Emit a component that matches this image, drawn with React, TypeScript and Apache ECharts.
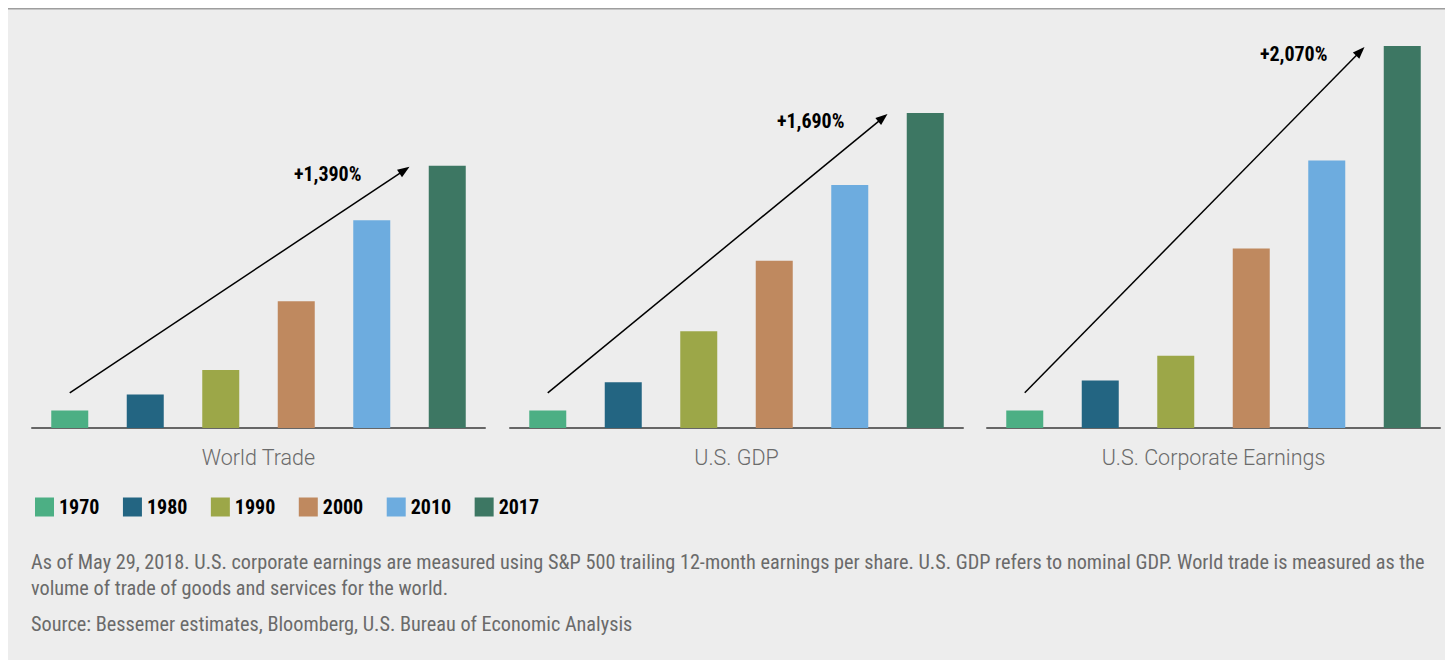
import React, { useEffect, useRef } from "react";
import * as echarts from "echarts";

const years = ["1970", "1980", "1990", "2000", "2010", "2017"];
const yearColors = ["#4caf84", "#236582", "#9ca748", "#bf895f", "#6dacdf", "#3d7763"];
const panelNames = ["World Trade", "U.S. GDP", "U.S. Corporate Earnings"];
// index, 1970 = 100
const worldTrade = [100, 190, 330, 720, 1180, 1490];
const usGdp = [100, 260, 550, 950, 1380, 1790];
const corpEarnings = [100, 270, 410, 1020, 1520, 2170];
const growthLabels = ["+1,390%", "+1,690%", "+2,070%"];
const arrowStartValue = 200;
const footnoteLines = [
  "As of May 29, 2018. U.S. corporate earnings are measured using S&P 500 trailing 12-month earnings per share. U.S. GDP refers to nominal GDP. World trade is measured as the",
  "volume of trade of goods and services for the world.",
];
const sourceLine = "Source: Bessemer estimates, Bloomberg, U.S. Bureau of Economic Analysis";

const COND = "'Liberation Sans Narrow', 'Roboto Condensed', 'DejaVu Sans Condensed', sans-serif";

export default function App() {
  const ref = useRef<HTMLDivElement>(null);
  useEffect(() => {
    if (!ref.current) return;
    const chart = echarts.init(ref.current, undefined, { renderer: "svg" });
    const panelData = [worldTrade, usGdp, corpEarnings];
    const lefts = [24, 502, 979];
    const grids = lefts.map((l) => ({ left: l, width: 453, top: 32.8, height: 387.2 }));
    const xAxes = panelNames.map((n, p) => ({
      type: "category",
      gridIndex: p,
      data: years,
      axisLine: { lineStyle: { color: "#666666", width: 2 } },
      axisTick: { show: false },
      axisLabel: { show: false },
      name: n,
      nameLocation: "middle",
      nameGap: 18,
      nameTextStyle: { fontFamily: "Roboto, sans-serif", fontWeight: 300, fontSize: 21.5, color: "#6b6b6b" },
    }));
    const yAxes = panelNames.map((_, p) => ({
      type: "value",
      gridIndex: p,
      min: 0,
      max: 2200,
      show: false,
      splitLine: { show: false },
    }));
    const series: any[] = [];
    panelData.forEach((vals, p) => {
      years.forEach((y, k) => {
        series.push({
          type: "bar",
          name: y,
          xAxisIndex: p,
          yAxisIndex: p,
          barWidth: 37,
          barGap: "-100%",
          itemStyle: { color: yearColors[k] },
          data: years.map((_, j) => (j === k ? vals[j] : "-")),
        });
      });
    });
    chart.setOption({
      animation: false,
      backgroundColor: "#ededed",
      grid: grids,
      xAxis: xAxes,
      yAxis: yAxes,
      series,
      legend: {
        data: years,
        left: 22,
        top: 484,
        icon: "rect",
        itemWidth: 19,
        itemHeight: 19,
        itemGap: 23.5,
        selectedMode: false,
        textStyle: { fontFamily: COND, fontWeight: "bold", fontSize: 20, color: "#000000" },
      },
    });

    const labelDx = [-48, -43, -37];
    const graphics: any[] = [
      { type: "rect", shape: { x: 0, y: 0, width: 1437, height: 1.5 }, style: { fill: "#9e9e9e" } },
    ];
    panelData.forEach((vals, p) => {
      const finder = { xAxisIndex: p, yAxisIndex: p };
      const start = chart.convertToPixel(finder, [0, arrowStartValue]) as number[];
      const a = chart.convertToPixel(finder, [4, vals[5]]) as number[];
      const b = chart.convertToPixel(finder, [5, vals[5]]) as number[];
      const tip = [(a[0] + b[0]) / 2, a[1] + 1];
      const dx = tip[0] - start[0];
      const dy = tip[1] - start[1];
      const len = Math.sqrt(dx * dx + dy * dy);
      const ux = dx / len;
      const uy = dy / len;
      const hl = 12;
      const hw = 4.5;
      const base = [tip[0] - ux * hl, tip[1] - uy * hl];
      graphics.push({
        type: "line",
        shape: { x1: start[0], y1: start[1], x2: base[0] + ux * 2, y2: base[1] + uy * 2 },
        style: { stroke: "#000", lineWidth: 1.5 },
      });
      graphics.push({
        type: "polygon",
        shape: {
          points: [
            tip,
            [base[0] - uy * hw, base[1] + ux * hw],
            [base[0] + uy * hw, base[1] - ux * hw],
          ],
        },
        style: { fill: "#000" },
      });
      graphics.push({
        type: "text",
        x: tip[0] + labelDx[p],
        y: tip[1] + 7,
        style: {
          text: growthLabels[p],
          fontFamily: COND,
          fontWeight: "bold",
          fontSize: 20,
          fill: "#000",
          align: "right",
          verticalAlign: "middle",
        },
      });
    });
    footnoteLines.forEach((t, i) => {
      graphics.push({
        type: "text",
        x: 23,
        y: 554 + i * 26,
        style: { text: t, fontFamily: COND, fontSize: 20.25, fill: "#6a6a6a", verticalAlign: "middle" },
      });
    });
    graphics.push({
      type: "text",
      x: 23,
      y: 616,
      style: { text: sourceLine, fontFamily: COND, fontSize: 20.25, fill: "#6a6a6a", verticalAlign: "middle" },
    });
    chart.setOption({ graphic: graphics });
    return () => chart.dispose();
  }, []);
  return <div ref={ref} style={{ width: 1437, height: 652 }} />;
}
